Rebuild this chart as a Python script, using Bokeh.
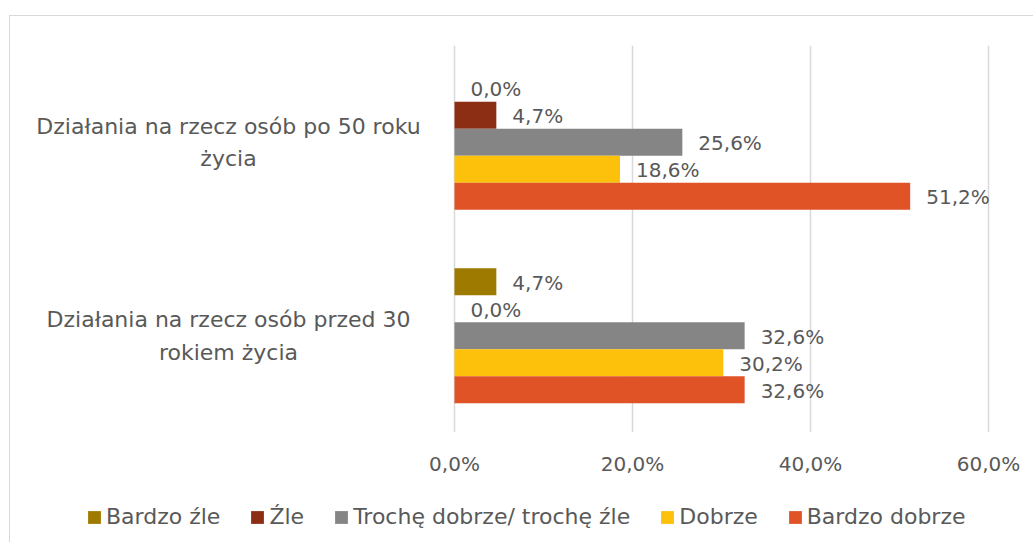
from bokeh.plotting import figure
from bokeh.layouts import column
from bokeh.models import ColumnDataSource, FactorRange, Range1d, FixedTicker, Legend, LegendItem
from bokeh.transform import dodge
from bokeh.core.properties import value
from bokeh.embed import file_html
from bokeh.resources import INLINE

# ---- data ----
categories = ["Działania na rzecz osób po 50 roku życia",
              "Działania na rzecz osób przed 30 rokiem życia"]
category_labels = ["Działania na rzecz osób po 50 roku\nżycia",
                   "Działania na rzecz osób przed 30\nrokiem życia"]
series_names = ["Bardzo źle", "Źle", "Trochę dobrze/ trochę źle", "Dobrze", "Bardzo dobrze"]
bardzo_zle = [0.0, 4.7]
zle = [4.7, 0.0]
troche = [25.6, 32.6]
dobrze = [18.6, 30.2]
bardzo_dobrze = [51.2, 32.6]
tick_values = [0, 20, 40, 60]
tick_labels = ["0,0%", "20,0%", "40,0%", "60,0%"]

series_values = [bardzo_zle, zle, troche, dobrze, bardzo_dobrze]
colors = ["#9e7a00", "#8b2e14", "#858585", "#fdc10b", "#e05327"]

FONT = "DejaVu Sans"
TXT = "#595959"
BORDER = "1px solid #d9d9d9"

W, H1, H2 = 1024, 464, 63
PX_PER_UNIT = 178 / 20.0          # screen px per percentage point in the reference
ZERO_PX, SIXTY_PX = 444, 978      # 0% and 60% positions inside the canvas

# ---------------- main chart ----------------
p = figure(width=W, height=H1,
           y_range=FactorRange(factors=categories[::-1]),
           x_range=Range1d(-ZERO_PX / PX_PER_UNIT, 60 + (W - SIXTY_PX) / PX_PER_UNIT),
           output_backend="svg", toolbar_location=None,
           min_border_left=0, min_border_right=0,
           min_border_top=29, min_border_bottom=48)
p.margin = (15, 0, 0, 9)
p.styles = {"border-top": BORDER, "border-left": BORDER}
p.outline_line_color = None
p.background_fill_color = "white"
p.border_fill_color = "white"

# ---------------- legend strip ----------------
p2 = figure(width=W, height=H2, x_range=Range1d(0, 1), y_range=Range1d(0, 1),
            output_backend="svg", toolbar_location=None,
            min_border_left=0, min_border_right=0, min_border_top=0, min_border_bottom=0)
p2.margin = (0, 0, 0, 9)
p2.styles = {"border-left": BORDER}
p2.axis.visible = False
p2.grid.visible = False
p2.outline_line_color = None
p2.background_fill_color = "white"
p2.border_fill_color = "white"

bar_h = 0.1395
n = len(series_names)
proxies = []
for i, (name, vals, col) in enumerate(zip(series_names, series_values, colors)):
    off = ((n - 1) / 2 - i) * bar_h
    src = ColumnDataSource(dict(
        cat=categories, v=vals,
        lab=[f"{x:.1f}".replace(".", ",") + "%" for x in vals]))
    p.hbar(y=dodge("cat", off, range=p.y_range), right="v", left=0,
           height=bar_h, color=col, line_color=None, source=src)
    p.text(x="v", y=dodge("cat", off, range=p.y_range), text="lab", source=src,
           x_offset=16, y_offset=1, text_align="left", text_baseline="middle",
           text_font=value(FONT), text_font_size="20px", text_color=TXT)
    # hidden legend proxy in the legend strip (same series data)
    proxies.append(p2.hbar(y="v", right="v", left=0, height=0.0, source=src,
                           color=col, line_color=None, visible=False))

# category labels, centred left of the value axis
csrc = ColumnDataSource(dict(cat=categories, lab=category_labels, x=[0, 0]))
p.text(x="x", y="cat", text="lab", source=csrc, x_offset=-226,
       text_align="center", text_baseline="middle", text_line_height=1.3,
       text_font=value(FONT), text_font_size="22px", text_color=TXT)

p.yaxis.visible = False
p.ygrid.grid_line_color = None

p.xgrid.ticker = FixedTicker(ticks=tick_values)
p.xgrid.grid_line_color = "#d9d9d9"
p.xgrid.grid_line_width = 1.5

ax = p.xaxis[0]
ax.ticker = FixedTicker(ticks=tick_values)
ax.major_label_overrides = {t: l for t, l in zip(tick_values, tick_labels)}
ax.axis_line_color = None
ax.major_tick_line_color = None
ax.minor_tick_line_color = None
ax.major_label_standoff = 13
ax.major_label_text_font = FONT
ax.major_label_text_font_size = "20px"
ax.major_label_text_color = TXT

lg = Legend(items=[LegendItem(label=nm, renderers=[r]) for nm, r in zip(series_names, proxies)])
lg.orientation = "horizontal"
lg.location = (76, 13)
lg.border_line_color = None
lg.background_fill_alpha = 0
lg.glyph_width = 16
lg.glyph_height = 16
lg.label_standoff = 4
lg.spacing = 29
lg.padding = 0
lg.margin = 0
lg.label_text_font = FONT
lg.label_text_font_size = "22px"
lg.label_text_color = TXT
p2.add_layout(lg, "center")

layout = column(p, p2)
open("out.html", "w").write(file_html(layout, INLINE))
